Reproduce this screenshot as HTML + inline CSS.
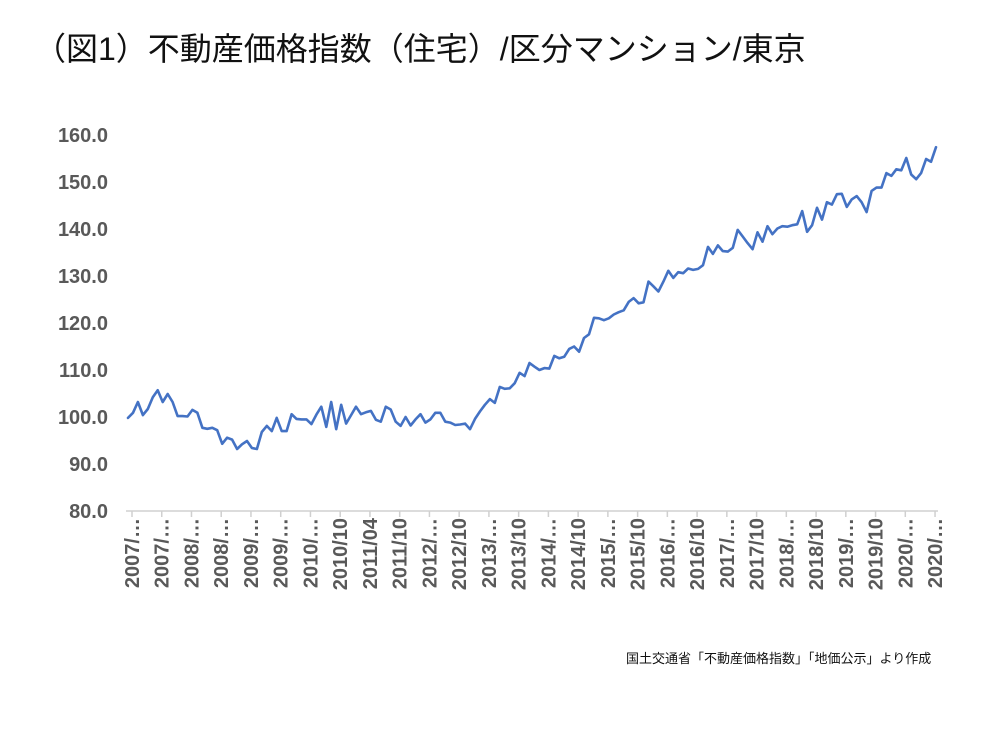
<!DOCTYPE html>
<html><head><meta charset="utf-8">
<style>
html,body{margin:0;padding:0;background:#fff;}
body{width:1000px;height:750px;position:relative;overflow:hidden;font-family:"Liberation Sans","Noto Sans CJK JP",sans-serif;}
#title{position:absolute;left:34px;top:24px;font-size:32px;color:#111;white-space:nowrap;font-family:"Liberation Sans","Noto Sans CJK JP",sans-serif;}
#source{position:absolute;left:626px;top:648px;font-size:13px;color:#111;white-space:nowrap;font-family:"Liberation Sans","Noto Sans CJK JP",sans-serif;}
svg{position:absolute;left:0;top:0;}
</style></head>
<body>
<div id="title">（図1）不動産価格指数（住宅）/区分マンション/東京</div>
<svg id="chart" width="1000" height="750"></svg>
<div id="source">国土交通省「不動産価格指数」「地価公示」より作成</div>
<script>
const values = [
99.8,100.9,103.2,100.4,101.7,104.2,105.7,103.2,104.9,103.2,
100.2,100.2,100.1,101.5,100.9,97.7,97.5,97.7,97.2,94.3,
95.6,95.2,93.2,94.2,94.9,93.4,93.2,96.8,98.1,97.0,
99.8,97.0,97.0,100.6,99.6,99.5,99.5,98.5,100.5,102.2,
97.9,103.2,97.4,102.6,98.6,100.4,102.2,100.6,101.0,101.3,
99.4,99.0,102.2,101.6,99.0,98.1,100.0,98.2,99.5,100.6,
98.8,99.5,100.9,100.9,99.0,98.8,98.3,98.4,98.6,97.4,
99.6,101.2,102.6,103.8,103.0,106.4,106.0,106.1,107.2,109.4,
108.7,111.5,110.7,110.0,110.4,110.3,113.0,112.5,112.8,114.5,
115.0,113.9,116.8,117.6,121.1,121.0,120.6,121.0,121.8,122.3,
122.7,124.5,125.3,124.2,124.4,128.8,127.8,126.7,128.8,131.1,
129.6,130.8,130.6,131.6,131.3,131.5,132.3,136.2,134.7,136.5,
135.3,135.2,136.0,139.8,138.4,137.0,135.7,139.3,137.3,140.6,
138.9,140.1,140.6,140.5,140.8,141.0,143.8,139.4,140.8,144.5,
142.0,145.7,145.2,147.4,147.5,144.7,146.3,147.0,145.7,143.6,
148.1,148.8,148.8,151.9,151.3,152.7,152.5,155.1,151.6,150.6,
151.9,154.9,154.3,157.4
];
const xLabels = ["2007/…","2007/…","2008/…","2008/…","2009/…","2009/…","2010/…","2010/10","2011/04","2011/10","2012/…","2012/10","2013/…","2013/10","2014/…","2014/10","2015/…","2015/10","2016/…","2016/10","2017/…","2017/10","2018/…","2018/10","2019/…","2019/10","2020/…","2020/…"];
const yTicks = [80,90,100,110,120,130,140,150,160];
const yTickLabels = ["80.0","90.0","100.0","110.0","120.0","130.0","140.0","150.0","160.0"];

const NS="http://www.w3.org/2000/svg";
const svg=document.getElementById('chart');
const X0=128,X1=936,Y0=511,Y1=135,VMIN=80,VMAX=160;
const n=values.length;
function xs(i){return X0+(X1-X0)*i/(n-1);}
function ys(v){return Y0-(v-VMIN)/(VMAX-VMIN)*(Y0-Y1);}
function mk(tag,attrs){const e=document.createElementNS(NS,tag);for(const k in attrs)e.setAttribute(k,attrs[k]);svg.appendChild(e);return e;}

yTicks.forEach((t,k)=>{
  const e=mk('text',{x:108,y:ys(t)+7,'text-anchor':'end','font-size':20,fill:'#595959','font-weight':'bold'});
  
  
  e.textContent=yTickLabels[k];
});

const ax=mk('line',{x1:X0-2,y1:Y0,x2:X1+2,y2:Y0,stroke:'#d0d0d0','stroke-width':1.5});



xLabels.forEach((lab,k)=>{
  const i=Math.min(k*6,n-1);
  const x=xs(i)+4;
  const tk=mk('line',{x1:x,y1:Y0,x2:x,y2:Y0+6,stroke:'#d0d0d0','stroke-width':1.5});
  
  
  const t=mk('text',{x:0,y:0,'text-anchor':'end','font-size':20,fill:'#595959','font-weight':'bold',transform:`translate(${x+7},${Y0+7}) rotate(-90)`});
  
  
  t.textContent=lab;
});

const d=values.map((v,i)=>(i?'L':'M')+xs(i).toFixed(1)+' '+ys(v).toFixed(1)).join(' ');
const line=mk('path',{d:d,fill:'none',stroke:'#4472c4','stroke-width':2.6,'stroke-linejoin':'round','stroke-linecap':'round'});


</script>
</body></html>
